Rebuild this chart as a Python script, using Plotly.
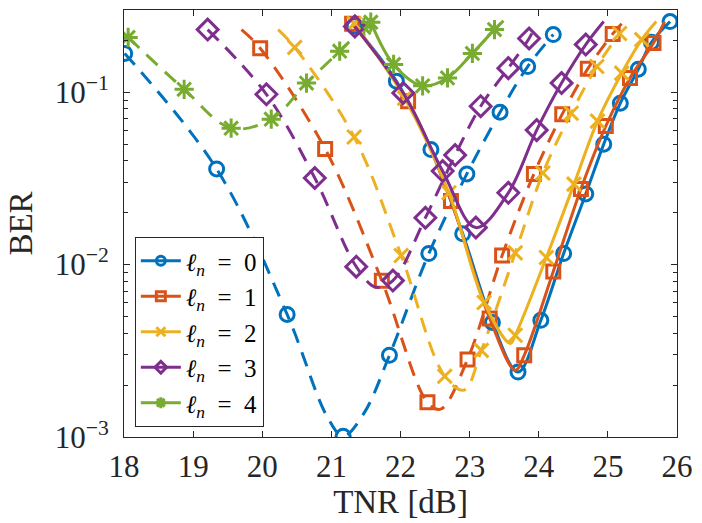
import math
import plotly.graph_objects as go

# ---------------- data ----------------
LABELS = ["0", "1", "2", "3", "4"]

# dashed curves: marker points
DASH0_X = [18.01, 19.34, 20.36, 21.17, 21.84, 22.41, 22.96, 23.44, 23.84, 24.21]
DASH0_Y = [0.168, 0.0359, 0.00514, 0.00101, 0.00298, 0.0116, 0.0336, 0.0766, 0.141, 0.216]
DASH1_X = [19.97, 20.91, 21.73, 22.39, 22.97, 23.47, 23.93, 24.34, 24.71, 25.07]
DASH1_Y = [0.180, 0.0469, 0.00807, 0.00159, 0.00282, 0.0113, 0.0336, 0.0746, 0.137, 0.218]
DASH2_X = [20.47, 21.33, 22.01, 22.64, 23.17, 23.66, 24.06, 24.47, 24.84, 25.17]
DASH2_Y = [0.182, 0.055, 0.0113, 0.00225, 0.00318, 0.0117, 0.034, 0.0756, 0.141, 0.219]
DASH3_X = [19.21, 20.06, 20.76, 21.36, 21.89, 22.36, 22.79, 23.16, 23.56, 23.86]
DASH3_Y = [0.231, 0.0973, 0.0318, 0.00973, 0.00808, 0.0187, 0.0432, 0.083, 0.138, 0.205]
DASH4_X = [18.06, 18.87, 19.55, 20.13, 20.64, 21.12, 21.47]
DASH4_Y = [0.208, 0.104, 0.0619, 0.0698, 0.113, 0.173, 0.238]

# dashed curves: extra curve points without a marker
DASH0_LX, DASH0_LY = [20.94, 21.47], [0.00131, 0.00137]
DASH1_LX, DASH1_LY = [19.70, 22.58, 25.23], [0.231, 0.00145, 0.257]
DASH2_LX, DASH2_LY = [20.23, 22.92], [0.231, 0.00187]
DASH3_LX, DASH3_LY = [21.64, 23.93], [0.0074, 0.232]
DASH4_LX, DASH4_LY = [], []

# solid curves: marker points
SOLID0_X = [21.33, 21.94, 22.44, 22.90, 23.33, 23.70, 24.03, 24.36, 24.68, 24.94, 25.18, 25.44, 25.63, 25.90]
SOLID0_Y = [0.243, 0.116, 0.0465, 0.0151, 0.00462, 0.00238, 0.00475, 0.0116, 0.0257, 0.050, 0.0864, 0.136, 0.195, 0.257]
SOLID1_X = [21.30, 22.11, 22.73, 23.29, 23.79, 24.21, 24.61, 24.97, 25.32, 25.66]
SOLID1_Y = [0.250, 0.0887, 0.0234, 0.00487, 0.00298, 0.00912, 0.0275, 0.0636, 0.121, 0.193]
SOLID2_X = [21.33, 22.06, 22.70, 23.21, 23.66, 24.11, 24.51, 24.85, 25.20, 25.49]
SOLID2_Y = [0.250, 0.0923, 0.0261, 0.00603, 0.00389, 0.011, 0.0293, 0.068, 0.129, 0.202]
SOLID3_X = [21.34, 22.04, 22.61, 23.09, 23.56, 23.97, 24.33, 24.68]
SOLID3_Y = [0.241, 0.099, 0.0349, 0.0164, 0.0261, 0.0603, 0.113, 0.189]
SOLID4_X = [21.57, 21.90, 22.32, 22.68, 23.04, 23.36]
SOLID4_Y = [0.255, 0.145, 0.109, 0.121, 0.168, 0.231]

# solid curves: extra curve points without a marker
SOLID0_LX, SOLID0_LY = [], []
SOLID1_LX, SOLID1_LY = [23.66, 25.82], [0.00244, 0.257]
SOLID2_LX, SOLID2_LY = [23.59, 25.70], [0.00349, 0.257]
SOLID3_LX, SOLID3_LY = [24.94], [0.257]
SOLID4_LX, SOLID4_LY = [23.49], [0.260]

X_TICKS = [18, 19, 20, 21, 22, 23, 24, 25, 26]
Y_TICKS = [1e-3, 1e-2, 1e-1]
Y_TICK_TEXT = ["10<sup>\u22123</sup>", "10<sup>\u22122</sup>", "10<sup>\u22121</sup>"]
X_RANGE = [18, 26]
Y_RANGE = [1e-3, 0.3]

DASHED = [(DASH0_X, DASH0_Y, DASH0_LX, DASH0_LY), (DASH1_X, DASH1_Y, DASH1_LX, DASH1_LY),
          (DASH2_X, DASH2_Y, DASH2_LX, DASH2_LY), (DASH3_X, DASH3_Y, DASH3_LX, DASH3_LY),
          (DASH4_X, DASH4_Y, DASH4_LX, DASH4_LY)]
SOLID = [(SOLID0_X, SOLID0_Y, SOLID0_LX, SOLID0_LY), (SOLID1_X, SOLID1_Y, SOLID1_LX, SOLID1_LY),
         (SOLID2_X, SOLID2_Y, SOLID2_LX, SOLID2_LY), (SOLID3_X, SOLID3_Y, SOLID3_LX, SOLID3_LY),
         (SOLID4_X, SOLID4_Y, SOLID4_LX, SOLID4_LY)]

# ---------------- styling ----------------
COLORS = ["#0072BD", "#D95319", "#EDB120", "#7E2F8E", "#77AC30"]
SYMBOLS = ["circle-open", "square-open", "x-thin-open", "diamond-open", "asterisk-open"]
MSIZE = [14, 13, 14, 16, 16]
FONT = "Liberation Serif, Times New Roman, serif"
AX = "#262626"
LW = 3
MLW = 3


def merge(xm, ym, xl, yl, size):
    pts = [(x, y, size) for x, y in zip(xm, ym)] + [(x, y, 0) for x, y in zip(xl, yl)]
    pts.sort(key=lambda p: p[0])
    return [p[0] for p in pts], [p[1] for p in pts], [p[2] for p in pts]


fig = go.Figure()

for group, dash in ((DASHED, "15px,10px"), (SOLID, "solid")):
    for k, (xm, ym, xl, yl) in enumerate(group):
        xs, ys, ss = merge(xm, ym, xl, yl, MSIZE[k])
        fig.add_trace(go.Scatter(
            x=xs, y=ys, mode="lines+markers", showlegend=False,
            line=dict(color=COLORS[k], width=LW, dash=dash, shape="spline", smoothing=1.0),
            marker=dict(symbol=SYMBOLS[k], size=ss, color=COLORS[k], opacity=1,
                        line=dict(color=COLORS[k], width=MLW)),
            hoverinfo="skip",
        ))

# legend entries (solid line + marker)
for k, lab in enumerate(LABELS):
    fig.add_trace(go.Scatter(
        x=[None], y=[None], mode="lines+markers",
        name=f"<i>\u2113</i><sub><i>n</i></sub>\u2002=\u2002{lab}",
        line=dict(color=COLORS[k], width=LW),
        marker=dict(symbol=SYMBOLS[k], size=9, color=COLORS[k], opacity=1,
                    line=dict(color=COLORS[k], width=MLW)),
    ))

minor_vals = [m * d for d in (1e-3, 1e-2, 1e-1) for m in range(2, 10) if m * d <= Y_RANGE[1]]

fig.update_layout(
    width=702, height=523,
    margin=dict(l=124, r=18, t=9, b=86),
    paper_bgcolor="white", plot_bgcolor="white",
    font=dict(family=FONT, color=AX),
    showlegend=True,
    legend=dict(x=0.0196, y=0.0234, xanchor="left", yanchor="bottom",
                bgcolor="white", bordercolor=AX, borderwidth=1,
                font=dict(family=FONT, size=25, color="black"),
                itemwidth=40, tracegroupgap=0),
)

fig.update_xaxes(
    range=X_RANGE, tickvals=X_TICKS, ticktext=[str(v) for v in X_TICKS],
    ticks="inside", ticklen=6, tickwidth=1, tickcolor=AX,
    showline=True, linecolor=AX, linewidth=1, mirror="ticks",
    showgrid=False, zeroline=False,
    tickfont=dict(family=FONT, size=31, color=AX),
    ticklabelstandoff=2,
    title=dict(text="TNR [dB]", font=dict(family=FONT, size=33, color=AX), standoff=4),
)
fig.update_yaxes(
    type="log", range=[math.log10(Y_RANGE[0]), math.log10(Y_RANGE[1])],
    tickvals=Y_TICKS, ticktext=Y_TICK_TEXT,
    ticks="inside", ticklen=6, tickwidth=1, tickcolor=AX,
    minor=dict(ticks="inside", ticklen=4, tickwidth=1, tickcolor=AX, tickvals=minor_vals, showgrid=False),
    showline=True, linecolor=AX, linewidth=1, mirror="ticks",
    showgrid=False, zeroline=False,
    tickfont=dict(family=FONT, size=31, color=AX),
    ticklabelstandoff=8,
    title=dict(text="BER", font=dict(family=FONT, size=33, color=AX), standoff=12),
)

fig.write_html("out.html")
